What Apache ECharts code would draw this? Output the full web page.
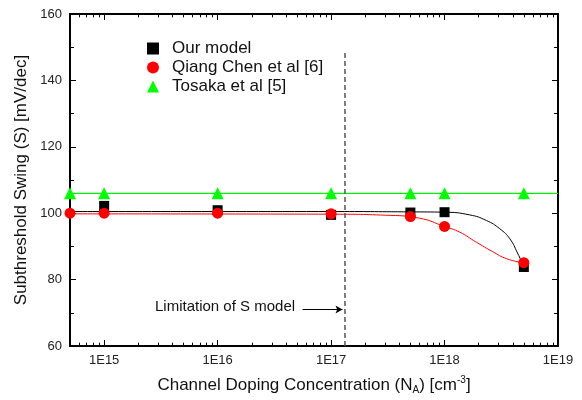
<!DOCTYPE html>
<html><head><meta charset="utf-8">
<script src="https://cdn.jsdelivr.net/npm/echarts@6/dist/echarts.min.js"></script>
<style>html,body{margin:0;padding:0;background:#fff}#c{width:582px;height:400px}</style>
</head><body><div id="c"></div>
<script>
// Data
const ourModelX = [1e15, 1e16, 1e17, 5e17, 1e18, 5e18];
const ourModelY = [102.2, 100.9, 99.5, 100.2, 100.3, 83.8];
const chenX = [5e14, 1e15, 1e16, 1e17, 5e17, 1e18, 5e18];
const chenY = [100.0, 100.0, 100.0, 99.8, 99.0, 96.0, 85.1];
const tosakaX = [5e14, 1e15, 1e16, 1e17, 5e17, 1e18, 5e18];
const tosakaY = [106, 106, 106, 106, 106, 106, 106];
// fitted curves
const ourFitX = [5e14, 1e17, 5e17, 1e18, 1.66e18, 2.34e18, 3.07e18, 3.76e18, 4.4e18, 5e18];
const ourFitY = [100.5, 100.5, 100.4, 100.3, 99.5, 97.8, 95.3, 92.3, 88.0, 83.8];
const chenFitX = [5e14, 1e17, 3e17, 6e17, 1e18, 1.36e18, 1.9e18, 2.66e18, 3.52e18, 5e18];
const chenFitY = [99.8, 99.7, 99.4, 98.5, 96.0, 94.3, 91.3, 88.4, 86.3, 85.0];
const tosakaFitX = [5e14, 1e19];
const tosakaFitY = [106, 106];
const limitX = 1.32e17;
const xMin = 5e14, xMax = 1e19, yMin = 60, yMax = 160;
const xMinorTicks = [];
for (let e = 14; e <= 18; e++) for (let m = 2; m <= 9; m++) { const v = m * Math.pow(10, e); if (v > xMin && v < xMax) xMinorTicks.push(v); }

const zip = (xs, ys) => xs.map((x, i) => [x, ys[i]]);
const font = 'Liberation Sans, Arial, sans-serif';

const tickLen = 1.0; // in y-axis units (~3px)
const minorTickLines = [];
xMinorTicks.forEach(v => {
  minorTickLines.push([{coord: [v, yMin]}, {coord: [v, yMin + tickLen]}]);
  minorTickLines.push([{coord: [v, yMax]}, {coord: [v, yMax - tickLen]}]);
});

const chart = echarts.init(document.getElementById('c'), null, {renderer: 'canvas'});
const axisLine = {show: true, onZero: false, lineStyle: {color: '#000', width: 2}};
chart.setOption({
  animation: false,
  grid: {left: 70, right: 24, top: 14, bottom: 52},
  legend: {
    orient: 'vertical', left: 142, top: 35, itemWidth: 12, itemHeight: 12, itemGap: 2,
    textStyle: {fontFamily: font, fontSize: 17, color: '#111', padding: [0, 0, 0, 8]},
    data: [
      {name: 'Our model', icon: 'rect'},
      {name: 'Qiang Chen et al [6]', icon: 'circle'},
      {name: 'Tosaka et al [5]', icon: 'triangle'}
    ]
  },
  xAxis: [{
    type: 'log', min: xMin, max: xMax, logBase: 10,
    axisLine: axisLine,
    axisTick: {inside: true, length: 6, lineStyle: {color: '#000', width: 1}},
    axisLabel: {fontFamily: font, fontSize: 13, color: '#222', margin: 8,
      formatter: v => { const e = Math.log10(v); return Math.abs(e - Math.round(e)) < 1e-6 ? '1E' + Math.round(e) : ''; }},
    splitLine: {show: false},
    name: '{a|Channel Doping Concentration (N}{s|A}{a|) [cm}{p|-3}{a|]}',
    nameLocation: 'middle', nameGap: 29,
    nameTextStyle: {rich: {
      a: {fontFamily: font, fontSize: 17, color: '#111'},
      s: {fontFamily: font, fontSize: 10, color: '#111', verticalAlign: 'bottom', padding: [10, 0, 0, 0]},
      p: {fontFamily: font, fontSize: 10, color: '#111', verticalAlign: 'top', padding: [0, 0, 9, 0]}
    }}
  }, {
    type: 'log', min: xMin, max: xMax, logBase: 10, position: 'top',
    axisLine: axisLine,
    axisTick: {inside: true, length: 6, lineStyle: {color: '#000', width: 1}},
    axisLabel: {show: false}, splitLine: {show: false}
  }],
  yAxis: [{
    type: 'value', min: yMin, max: yMax, interval: 20,
    axisLine: axisLine,
    axisTick: {inside: true, length: 6, lineStyle: {color: '#000', width: 1}},
    minorTick: {show: true, splitNumber: 2, length: 4, lineStyle: {color: '#000', width: 1}},
    axisLabel: {fontFamily: font, fontSize: 13, color: '#222', margin: 8},
    splitLine: {show: false},
    name: 'Subthreshold Swing (S) [mV/dec]', nameLocation: 'middle', nameGap: 40,
    nameTextStyle: {fontFamily: font, fontSize: 17, color: '#111'}
  }, {
    type: 'value', min: yMin, max: yMax, interval: 20, position: 'right',
    axisLine: axisLine,
    axisTick: {inside: true, length: 6, lineStyle: {color: '#000', width: 1}},
    minorTick: {show: true, splitNumber: 2, length: 4, lineStyle: {color: '#000', width: 1}},
    axisLabel: {show: false}, splitLine: {show: false}
  }],
  series: [
    {name: 'ourFit', type: 'line', data: zip(ourFitX, ourFitY), smooth: 0.5, symbol: 'none',
      lineStyle: {color: '#000', width: 1}, z: 2,
      markLine: {silent: true, symbol: ['none', 'none'], label: {show: false},
        lineStyle: {color: '#555', type: [5, 3], width: 1.5},
        data: [[{coord: [limitX, yMin]}, {coord: [limitX, 149]}]]}},
    {name: 'chenFit', type: 'line', data: zip(chenFitX, chenFitY), smooth: 0.5, symbol: 'none',
      lineStyle: {color: '#ff0000', width: 1}, z: 2,
      markLine: {silent: true, symbol: ['none', 'arrow'], symbolSize: [6, 7], label: {show: false},
        lineStyle: {color: '#000', type: 'solid', width: 1},
        data: [[{coord: [5.6e16, 71.0]}, {coord: [1.26e17, 71.0]}]]}},
    {name: 'tosakaFit', type: 'line', data: zip(tosakaFitX, tosakaFitY), symbol: 'none',
      lineStyle: {color: '#00ee00', width: 1.2}, z: 2,
      markLine: {silent: true, symbol: ['none', 'none'], label: {show: false}, z: 10,
        lineStyle: {color: '#000', type: 'solid', width: 1},
        data: minorTickLines}},
    {name: 'Tosaka et al [5]', type: 'scatter', data: zip(tosakaX, tosakaY), symbol: 'triangle', symbolSize: 12,
      itemStyle: {color: '#00ff00', opacity: 1}, z: 3},
    {name: 'Our model', type: 'scatter', data: zip(ourModelX, ourModelY), symbol: 'rect', symbolSize: 10,
      itemStyle: {color: '#000', opacity: 1}, z: 4},
    {name: 'Qiang Chen et al [6]', type: 'scatter', data: zip(chenX, chenY), symbol: 'circle', symbolSize: 11,
      itemStyle: {color: '#ff0000', opacity: 1}, z: 5}
  ],
  graphic: [{type: 'text', left: 155, top: 299,
    style: {text: 'Limitation of S model', font: '15px ' + font, fill: '#111'}}]
});
</script></body></html>
